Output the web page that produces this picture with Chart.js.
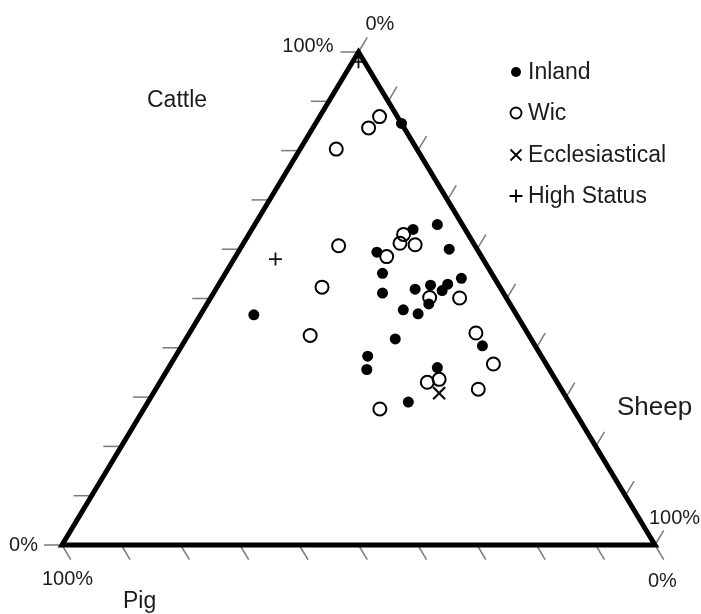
<!DOCTYPE html>
<html>
<head>
<meta charset="utf-8">
<script src="https://cdn.jsdelivr.net/npm/chart.js"></script>
<style>
  html, body { margin: 0; padding: 0; background: #fff; }
</style>
</head>
<body>
<canvas id="ternary" width="701" height="614"></canvas>
<script>
    // composition in percent: cattle, sheep, pig
    const inlandCattle = [85.5, 64.0, 65.0, 60.0, 59.4, 55.1, 51.1, 51.9, 52.7, 52.9, 51.6, 54.1, 47.7, 46.9, 48.9, 41.8, 38.3, 35.6, 36.0, 40.4, 29.0, 46.7];
    const inlandSheep  = [14.5, 27.2, 30.8, 35.3, 23.4, 26.5, 28.5, 33.6, 35.8, 38.6, 38.3, 40.3, 33.7, 36.6, 37.4, 35.3, 32.4, 33.6, 45.3, 50.7, 43.9, 9.0];
    const inlandPig    = [0.0, 8.8, 4.2, 4.7, 17.2, 18.4, 20.4, 14.5, 11.5, 8.5, 10.1, 5.6, 18.6, 16.5, 13.7, 22.9, 29.3, 30.8, 18.7, 8.9, 27.1, 44.3];

    const wicCattle = [86.9, 84.6, 80.3, 60.7, 52.3, 42.5, 63.0, 61.2, 60.9, 58.5, 50.2, 50.1, 43.0, 36.7, 31.6, 33.0, 33.6, 27.6];
    const wicSheep  = [10.1, 9.4, 6.1, 16.3, 17.7, 20.6, 26.1, 26.4, 29.1, 25.5, 36.9, 42.0, 48.3, 54.4, 54.4, 45.1, 46.8, 39.8];
    const wicPig    = [3.0, 6.0, 13.6, 23.0, 30.0, 36.9, 10.9, 12.4, 10.0, 16.0, 12.9, 7.9, 8.7, 8.9, 14.0, 21.9, 19.6, 32.6];

    const eccCattle = [30.8];
    const eccSheep  = [48.2];
    const eccPig    = [21.0];

    const highCattle = [98.0, 58.0];
    const highSheep  = [1.0, 7.0];
    const highPig    = [1.0, 35.0];

    const tickPercents = [0, 10, 20, 30, 40, 50, 60, 70, 80, 90, 100];

    const FONT = '"Liberation Sans", Arial, sans-serif';
    const TEXT = '#1c1c1c';

    // ternary -> cartesian (cattle at apex, pig bottom-left, sheep bottom-right)
    function toXY(c, s, p) {
        const sum = c + s + p;
        return { x: (s + c / 2) / sum, y: c / sum };
    }

    function points(cattle, sheep, pig) {
        return cattle.map((c, i) => toXY(c, sheep[i], pig[i]));
    }

    function px(chart, c, s, p) {
        const v = toXY(c, s, p);
        return [chart.scales.x.getPixelForValue(v.x), chart.scales.y.getPixelForValue(v.y)];
    }

    const framePlugin = {
        id: 'ternaryFrame',
        afterDatasetsDraw(chart) {
            const ctx = chart.ctx;
            const A = px(chart, 100, 0, 0);
            const L = px(chart, 0, 0, 100);
            const R = px(chart, 0, 100, 0);
            const len = 17;
            const norm = (a, b) => {
                const dx = b[0] - a[0], dy = b[1] - a[1];
                const d = Math.hypot(dx, dy);
                return [dx / d * len, dy / d * len];
            };
            const downRight = norm(A, R);   // parallel to right edge
            const upRight = norm(L, A);     // parallel to left edge

            ctx.save();
            ctx.strokeStyle = '#7a7a7a';
            ctx.lineWidth = 1.5;
            tickPercents.forEach(t => {
                let p = px(chart, t, 0, 100 - t);
                ctx.beginPath(); ctx.moveTo(p[0], p[1]); ctx.lineTo(p[0] - 18, p[1]); ctx.stroke();
                p = px(chart, 0, 100 - t, t);
                ctx.beginPath(); ctx.moveTo(p[0], p[1]); ctx.lineTo(p[0] + downRight[0], p[1] + downRight[1]); ctx.stroke();
                p = px(chart, 100 - t, t, 0);
                ctx.beginPath(); ctx.moveTo(p[0], p[1]); ctx.lineTo(p[0] + upRight[0], p[1] + upRight[1]); ctx.stroke();
            });

            ctx.strokeStyle = '#000';
            ctx.lineWidth = 5;
            ctx.lineJoin = 'miter';
            ctx.beginPath();
            ctx.moveTo(A[0], A[1]); ctx.lineTo(R[0], R[1]); ctx.lineTo(L[0], L[1]); ctx.closePath();
            ctx.stroke();

            // axis labels
            ctx.fillStyle = TEXT;
            ctx.textBaseline = 'alphabetic';
            ctx.font = '20px ' + FONT;
            ctx.textAlign = 'left';
            ctx.fillText('0%', A[0] + 7, A[1] - 22);
            ctx.textAlign = 'right';
            ctx.fillText('100%', A[0] - 25, A[1]);
            ctx.fillText('0%', L[0] - 24, L[1] + 6);
            ctx.textAlign = 'left';
            ctx.fillText('100%', L[0] - 20, L[1] + 40);
            ctx.fillText('0%', R[0] - 7, R[1] + 42);
            ctx.fillText('100%', R[0] - 6, R[1] - 21);

            ctx.font = '23px ' + FONT;
            ctx.fillText('Cattle', 147, 107);
            ctx.font = '26px ' + FONT;
            ctx.fillText('Sheep', 617, 415);
            ctx.font = '23px ' + FONT;
            ctx.fillText('Pig', 123, 608);

            // legend
            const rows = [
                { label: 'Inland', y: 72, draw: (x, y) => { ctx.beginPath(); ctx.arc(x, y, 5, 0, Math.PI * 2); ctx.fillStyle = '#000'; ctx.fill(); } },
                { label: 'Wic', y: 113, draw: (x, y) => { ctx.beginPath(); ctx.arc(x, y, 5.5, 0, Math.PI * 2); ctx.lineWidth = 1.8; ctx.strokeStyle = '#000'; ctx.stroke(); } },
                { label: 'Ecclesiastical', y: 155, draw: (x, y) => { ctx.beginPath(); ctx.lineWidth = 1.8; ctx.strokeStyle = '#000'; ctx.moveTo(x - 5.5, y - 5.5); ctx.lineTo(x + 5.5, y + 5.5); ctx.moveTo(x + 5.5, y - 5.5); ctx.lineTo(x - 5.5, y + 5.5); ctx.stroke(); } },
                { label: 'High Status', y: 196, draw: (x, y) => { ctx.beginPath(); ctx.lineWidth = 1.8; ctx.strokeStyle = '#000'; ctx.moveTo(x - 6.5, y); ctx.lineTo(x + 6.5, y); ctx.moveTo(x, y - 6.5); ctx.lineTo(x, y + 6.5); ctx.stroke(); } }
            ];
            ctx.font = '23px ' + FONT;
            ctx.textBaseline = 'middle';
            rows.forEach(r => {
                r.draw(516, r.y);
                ctx.fillStyle = TEXT;
                ctx.fillText(r.label, 528, r.y + 1);
            });
            ctx.restore();
        }
    };

    new Chart(document.getElementById('ternary'), {
        type: 'scatter',
        data: {
            datasets: [
                {
                    label: 'Inland',
                    data: points(inlandCattle, inlandSheep, inlandPig),
                    pointStyle: 'circle',
                    pointRadius: 5.5,
                    backgroundColor: '#000',
                    borderColor: '#000',
                    borderWidth: 0,
                    clip: false
                },
                {
                    label: 'Wic',
                    data: points(wicCattle, wicSheep, wicPig),
                    pointStyle: 'circle',
                    pointRadius: 6.5,
                    backgroundColor: 'rgba(255,255,255,0)',
                    borderColor: '#000',
                    borderWidth: 2,
                    clip: false
                },
                {
                    label: 'Ecclesiastical',
                    data: points(eccCattle, eccSheep, eccPig),
                    pointStyle: 'crossRot',
                    pointRadius: 8.5,
                    borderColor: '#111',
                    borderWidth: 2.2,
                    clip: false
                },
                {
                    label: 'High Status',
                    data: points(highCattle, highSheep, highPig),
                    pointStyle: 'cross',
                    pointRadius: 6.5,
                    borderColor: '#111',
                    borderWidth: 1.8,
                    clip: false
                }
            ]
        },
        options: {
            responsive: false,
            animation: false,
            devicePixelRatio: 1,
            layout: { padding: { left: 62, right: 46, top: 52, bottom: 69 } },
            scales: {
                x: { type: 'linear', min: 0, max: 1, display: false },
                y: { type: 'linear', min: 0, max: 1, display: false }
            },
            plugins: {
                legend: { display: false },
                tooltip: { enabled: false }
            }
        },
        plugins: [framePlugin]
    });
</script>
</body>
</html>
